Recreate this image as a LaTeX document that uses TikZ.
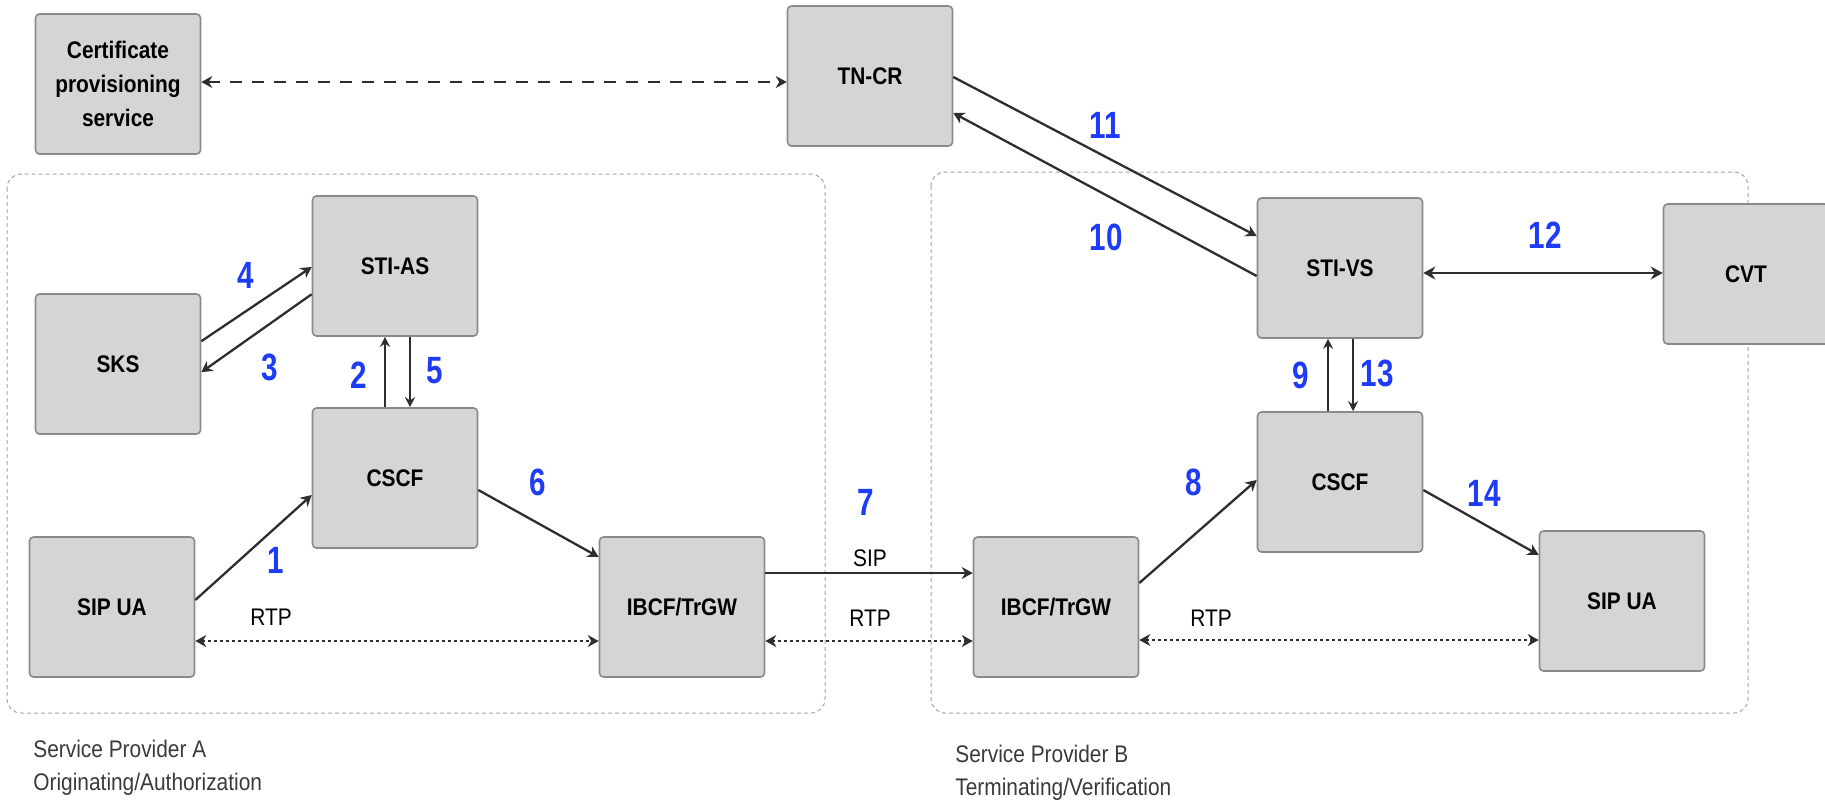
\documentclass[tikz,border=0pt]{standalone}
\usepackage{fontspec}
\setmainfont{Liberation Sans}
\newfontfamily\condsans[FakeStretch=0.87]{Liberation Sans}
\newfontfamily\numsans[FakeStretch=0.78]{Liberation Sans}
\usetikzlibrary{arrows.meta,calc}

\definecolor{boxfill}{HTML}{D5D5D5}
\definecolor{boxline}{HTML}{8A8A8A}
\definecolor{wire}{HTML}{2E2E2E}
\definecolor{stepblue}{HTML}{1E3CF5}
\definecolor{groupline}{HTML}{A5A5A5}
\definecolor{captiongray}{HTML}{3A3A3A}

\begin{document}
\begin{tikzpicture}[x=0.5pt,y=-0.5pt,
  box/.style={draw=boxline, fill=boxfill, line width=0.8pt, rounded corners=2pt,
    minimum width=82.5pt, minimum height=70pt, inner sep=0pt, align=center,
    font=\condsans\bfseries\fontsize{12}{17}\selectfont},
  head/.style={Stealth[length=5.5pt,width=6pt]},
  flow/.style={draw=wire, line width=1.15pt, -{Stealth[length=5.5pt,width=6pt]}},
  thinflow/.style={draw=wire, line width=0.8pt, -{Stealth[length=5pt,width=5pt]}},
  both/.style={draw=wire, line width=1.4pt, {Stealth[length=6pt,width=6.5pt]}-{Stealth[length=6pt,width=6.5pt]}},
  media/.style={draw=wire, line width=1.3pt, dash pattern=on 1.4pt off 1.6pt,
    {Stealth[length=5.5pt,width=6pt]}-{Stealth[length=5.5pt,width=6pt]}},
  provision/.style={draw=wire, line width=1.2pt, dash pattern=on 6pt off 5pt,
    {Stealth[length=5.5pt,width=6pt]}-{Stealth[length=5.5pt,width=6pt]}},
  group/.style={draw=groupline, line width=0.5pt, dash pattern=on 2pt off 1.5pt, rounded corners=7pt},
  num/.style={text=stepblue, inner sep=0pt, font=\numsans\bfseries\fontsize{19}{19}\selectfont},
  tag/.style={inner sep=0pt, font=\condsans\fontsize{12}{12}\selectfont},
  caption/.style={inner sep=0pt, anchor=west, align=left, text=captiongray,
    font=\condsans\fontsize{12}{16.5}\selectfont}]

\useasboundingbox (0,0) rectangle (1825,805);

% provider domains
\draw[group] (7,174) rectangle (825,713);
\draw[group] (931,172) rectangle (1748,713);

% functional elements
\node[box] (cert)   at (118,84)  {Certificate\\provisioning\\service};
\node[box] (tncr)   at (870,76)  {TN-CR};
\node[box] (stias)  at (395,266) {STI-AS};
\node[box] (sks)    at (118,364) {SKS};
\node[box] (cscfA)  at (395,478) {CSCF};
\node[box] (sipuaA) at (112,607) {SIP UA};
\node[box] (ibcfA)  at (682,607) {IBCF/TrGW};
\node[box] (stivs)  at (1340,268) {STI-VS};
\node[box] (cvt)    at (1746,274) {CVT};
\node[box] (cscfB)  at (1340,482) {CSCF};
\node[box] (ibcfB)  at (1056,607) {IBCF/TrGW};
\node[box] (sipuaB) at (1622,601) {SIP UA};

% certificate provisioning
\draw[provision] ($(cert.east)+(0,-2)$) -- ($(tncr.west)+(0,6)$);

% originating side signalling
\draw[flow] ($(sipuaA.east)+(0,-7)$) -- ($(cscfA.west)+(0,17)$);
\draw[thinflow] ($(cscfA.north)+(-10,0)$) -- ($(stias.south)+(-10,0)$);
\draw[flow] ($(stias.north west)+(0,99)$) -- ($(sks.north east)+(0,79)$);
\draw[flow] ($(sks.north east)+(0,48)$) -- ($(stias.west)+(0,1)$);
\draw[thinflow] ($(stias.south)+(15,0)$) -- ($(cscfA.north)+(15,0)$);
\draw[flow] ($(cscfA.east)+(0,12)$) -- ($(ibcfA.west)+(0,-50)$);

% interconnect
\draw[flow, line width=1.3pt] ($(ibcfA.east)+(0,-34)$) -- ($(ibcfB.west)+(0,-34)$);
\draw[media] ($(sipuaA.east)+(0,34)$) -- ($(ibcfA.west)+(0,34)$);
\draw[media] ($(ibcfA.east)+(0,34)$) -- ($(ibcfB.west)+(0,34)$);

% terminating side signalling
\draw[flow] ($(ibcfB.east)+(0,-24)$) -- ($(cscfB.west)+(0,-2)$);
\draw[thinflow] ($(cscfB.north)+(-12,0)$) -- ($(stivs.south)+(-12,0)$);
\draw[flow] ($(stivs.west)+(0,8)$) -- ($(tncr.east)+(0,37)$);
\draw[flow] ($(tncr.east)+(0,1)$) -- ($(stivs.west)+(0,-32)$);
\draw[both] ($(stivs.east)+(0,5)$) -- ($(cvt.west)+(0,-1)$);
\draw[thinflow] ($(stivs.south)+(13,0)$) -- ($(cscfB.north)+(13,0)$);
\draw[flow] ($(cscfB.east)+(0,8)$) -- ($(sipuaB.west)+(0,-46)$);
\draw[media] ($(ibcfB.east)+(0,33)$) -- ($(sipuaB.west)+(0,39)$);

% step numbers
\node[num] (n1)  at (276,560)  {1};
\node[num] (n2)  at (359,375)  {2};
\node[num] (n3)  at (270,367)  {3};
\node[num] (n4)  at (246,275)  {4};
\node[num] (n5)  at (435,371)  {5};
\node[num] (n6)  at (538,482)  {6};
\node[num] (n7)  at (866,502)  {7};
\node[num] (n8)  at (1194,482) {8};
\node[num] (n9)  at (1301,375) {9};
\node[num] (n10) at (1106,237) {10};
\node[num] (n11) at (1105,125) {11};
\node[num] (n12) at (1545,235) {12};
\node[num] (n13) at (1377,373) {13};
\node[num] (n14) at (1484,493) {14};

% protocol tags
\node[tag] (sip)   at (870,558)  {SIP};
\node[tag] (rtpA)  at (271,617)  {RTP};
\node[tag] (rtpX)  at (870,618)  {RTP};
\node[tag] (rtpB)  at (1211,618) {RTP};

% domain captions
\node[caption] (capA) at (33,768)  {Service Provider A\\Originating/Authorization};
\node[caption] (capB) at (955,773) {Service Provider B\\Terminating/Verification};

\end{tikzpicture}
\end{document}
